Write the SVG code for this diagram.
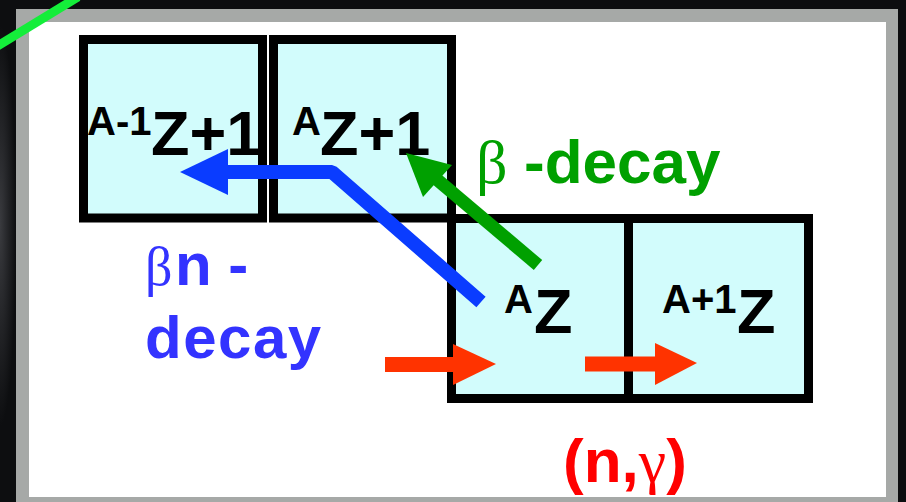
<svg xmlns="http://www.w3.org/2000/svg" width="906" height="502" viewBox="0 0 906 502">
<style>
.box{fill:#D2FCFC;stroke:#000;stroke-width:9}
.nuc{font-family:"Liberation Sans",Arial,sans-serif;font-weight:bold;fill:#000}
.sup{font-size:40px}
.big{font-size:63px}
.lbl{font-family:"Liberation Sans",Arial,sans-serif;font-weight:bold}
.sym{font-family:"Liberation Serif","DejaVu Serif",serif;font-weight:normal}
</style>
<defs>
<radialGradient id="bgg" cx="0" cy="0.45" r="0.4">
<stop offset="0" stop-color="#3a3b3f"/>
<stop offset="1" stop-color="#0d0e10"/>
</radialGradient>
</defs>
<g id="background">
<rect x="0" y="0" width="906" height="502" fill="#0c0d0f"/>
<rect x="0" y="0" width="40" height="502" fill="url(#bgg)"/>
<rect x="16" y="9" width="882" height="500" fill="#A6A9A7"/>
<rect x="29" y="22" width="857" height="475" fill="#FFFFFF"/>
<line x1="-4" y1="47" x2="78" y2="-3" stroke="#14EE3A" stroke-width="9"/>
</g>
<g id="node-A-1Z+1">
<rect class="box" x="83.5" y="39.5" width="179" height="178.5"/>
<text class="nuc"><tspan class="sup" x="87" y="135">A-1</tspan><tspan class="big" x="151" y="155">Z+1</tspan></text>
</g>
<g id="node-AZ+1">
<rect class="box" x="273.5" y="39.5" width="178" height="178.5"/>
<text class="nuc"><tspan class="sup" x="292" y="135">A</tspan><tspan class="big" x="320" y="155">Z+1</tspan></text>
</g>
<g id="node-AZ">
<rect class="box" x="451.5" y="218.5" width="177" height="180"/>
<text class="nuc"><tspan class="sup" x="504" y="313">A</tspan><tspan class="big" x="534" y="333">Z</tspan></text>
</g>
<g id="node-A+1Z">
<rect class="box" x="628.5" y="218.5" width="180" height="180"/>
<text class="nuc"><tspan class="sup" x="662" y="313">A+1</tspan><tspan class="big" x="737" y="333">Z</tspan></text>
</g>
<g id="connectors">
<polyline points="481,302 332,172 225,172" fill="none" stroke="#0A3CFF" stroke-width="14" stroke-linejoin="bevel"/>
<polygon points="180,172 228,149 228,195" fill="#0A3CFF"/>
<line x1="538" y1="265" x2="434" y2="177" stroke="#00A000" stroke-width="13"/>
<polygon points="406,153 423,197 452,165" fill="#00A000"/>
<line x1="385" y1="364.5" x2="455" y2="364.5" stroke="#FF3300" stroke-width="15"/>
<polygon points="496,364 453,344 453,385" fill="#FF3300"/>
<line x1="585" y1="364" x2="657" y2="364" stroke="#FF3300" stroke-width="15"/>
<polygon points="697,363 655,343 655,385" fill="#FF3300"/>
</g>
<g id="labels">
<text class="lbl" fill="#00A000" font-size="62"><tspan class="sym" x="476" y="183">β</tspan><tspan x="524" y="183">-decay</tspan></text>
<text class="lbl" fill="#3333FF" font-size="60"><tspan class="sym" font-weight="bold" font-size="54" x="145" y="285">β</tspan><tspan x="175" y="285">n -</tspan></text>
<text class="lbl" fill="#3333FF" font-size="60" letter-spacing="1.5" x="145" y="358">decay</text>
<text class="lbl" fill="#FF0000" font-size="62"><tspan x="563" y="482">(n,</tspan><tspan class="sym" font-weight="bold">γ</tspan><tspan>)</tspan></text>
</g>
</svg>
